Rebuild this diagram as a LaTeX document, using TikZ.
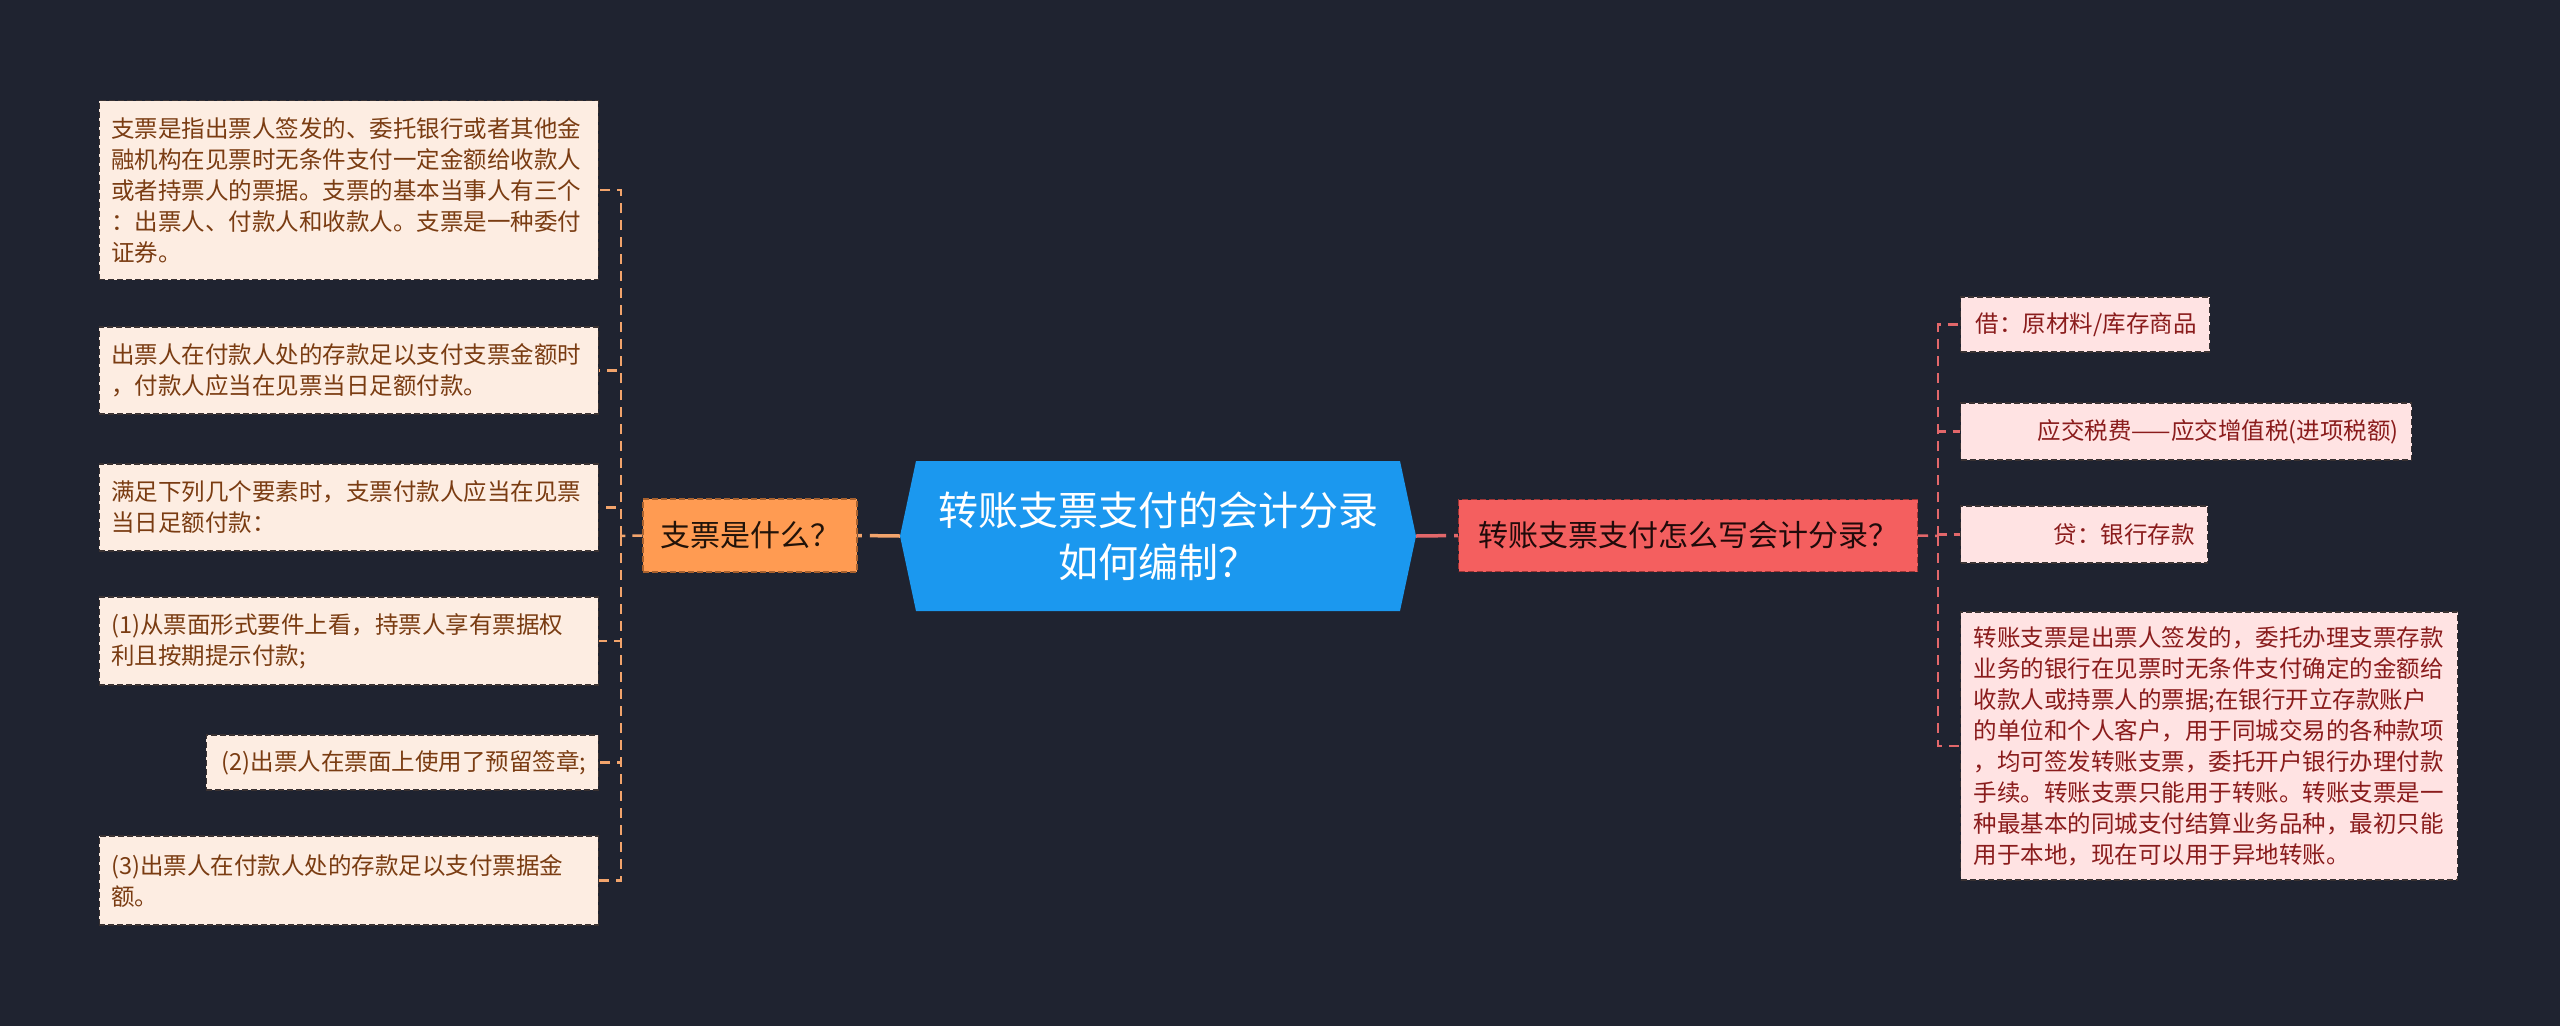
\documentclass[tikz,border=0pt]{standalone}
\usepackage{fontspec}
\setmainfont{Noto Sans CJK SC}
\definecolor{bgnavy}{HTML}{1F2330}
\definecolor{leftfill}{HTML}{FDEDE2}
\definecolor{lefttext}{HTML}{7A3C12}
\definecolor{leftlink}{HTML}{F2A46C}
\definecolor{askfill}{HTML}{FF9B52}
\definecolor{askedge}{HTML}{A8612E}
\definecolor{hexblue}{HTML}{1B98EF}
\definecolor{howfill}{HTML}{F45F5F}
\definecolor{howedge}{HTML}{9E3434}
\definecolor{rightfill}{HTML}{FFE3E3}
\definecolor{righttext}{HTML}{8A1C1C}
\definecolor{rightlink}{HTML}{E2676A}
\definecolor{boxedge}{HTML}{3A3232}
\tikzset{
  smalltext/.style={font=\fontsize{23.5}{31}\selectfont},
  leftbox/.style={smalltext, draw=boxedge, dash pattern=on 6pt off 3pt, line width=1.3pt,
    fill=leftfill, text=lefttext, inner xsep=12pt, inner ysep=0pt, anchor=east},
  rightbox/.style={smalltext, draw=boxedge, dash pattern=on 6pt off 3pt, line width=1.3pt,
    fill=rightfill, text=righttext, inner xsep=13pt, inner ysep=0pt, anchor=west},
  topic/.style={font=\fontsize{30}{38}\selectfont, dash pattern=on 6pt off 3pt, line width=1.3pt,
    inner sep=0pt},
  leftline/.style={draw=leftlink, line width=2.5pt, dash pattern=on 10pt off 7pt},
  rightline/.style={draw=rightlink, line width=2.5pt, dash pattern=on 10pt off 7pt}
}
\begin{document}
\begin{tikzpicture}[x=1pt,y=-1pt]
\fill[bgnavy] (0,0) rectangle (2560,1026);
% centre
\fill[hexblue] (900,536) -- (916,461) -- (1400,461) -- (1416,536) -- (1400,611) -- (916,611) -- cycle;
\node[text=white, minimum width=516pt, minimum height=150pt, inner sep=0pt,
  align=center, font=\fontsize{40}{52}\selectfont] (root) at (1158,536)
  {转账支票支付的会计分录\\如何编制？};
% main topics
\node[topic, draw=askedge, fill=askfill, text=black!80!askedge, minimum width=214pt,
  minimum height=73pt] (ask) at (750,535.5) {支票是什么？};
\node[topic, draw=howedge, fill=howfill, text=black!80!howedge, minimum width=459pt,
  minimum height=72pt] (how) at (1688,535.5) {转账支票支付怎么写会计分录？};
% left side
\node[leftbox, text width=475pt, align=left, minimum height=179pt] (l1) at (599,190)
  {支票是指出票人签发的、委托银行或者其他金\\融机构在见票时无条件支付一定金额给收款人\\或者持票人的票据。支票的基本当事人有三个\\：出票人、付款人和收款人。支票是一种委付\\证券。};
\node[leftbox, text width=475pt, align=left, minimum height=87pt] (l2) at (599,370.5)
  {出票人在付款人处的存款足以支付支票金额时\\，付款人应当在见票当日足额付款。};
\node[leftbox, text width=475pt, align=left, minimum height=87pt] (l3) at (599,507.5)
  {满足下列几个要素时，支票付款人应当在见票\\当日足额付款：};
\node[leftbox, text width=475pt, align=left, minimum height=88pt] (l4) at (599,641)
  {(1)从票面形式要件上看，持票人享有票据权\\利且按期提示付款;};
\node[leftbox, text width=368pt, align=right, minimum height=55pt] (l5) at (599,762.5)
  {(2)出票人在票面上使用了预留签章;};
\node[leftbox, text width=475pt, align=left, minimum height=89pt] (l6) at (599,880.5)
  {(3)出票人在付款人处的存款足以支付票据金\\额。};
% right side
\node[rightbox, text width=223pt, align=right, minimum height=55pt] (r1) at (1960,324.5)
  {借：原材料/库存商品};
\node[rightbox, text width=425pt, align=right, minimum height=57pt] (r2) at (1960,431.5)
  {应交税费——应交增值税(进项税额)};
\node[rightbox, text width=221pt, align=right, minimum height=57pt] (r3) at (1960,534.5)
  {贷：银行存款};
\node[rightbox, text width=471pt, align=left, minimum height=268pt] (r4) at (1960,746)
  {转账支票是出票人签发的，委托办理支票存款\\业务的银行在见票时无条件支付确定的金额给\\收款人或持票人的票据;在银行开立存款账户\\的单位和个人客户，用于同城交易的各种款项\\，均可签发转账支票，委托开户银行办理付款\\手续。转账支票只能用于转账。转账支票是一\\种最基本的同城支付结算业务品种，最初只能\\用于本地，现在可以用于异地转账。};
% connectors
\coordinate (lbus) at (621,536);
\coordinate (rbus) at (1938,536);
\draw[leftline, line width=3.5pt, dash pattern=on 30pt off 8pt] (root.west) -- (ask.east);
\draw[rightline, line width=3.5pt, dash pattern=on 30pt off 8pt] (root.east) -- (how.west);
\draw[leftline] (ask.west) -- (lbus);
\draw[rightline] (how.east) -- (rbus);
\foreach \n in {l1,l2,l3,l4,l5,l6}
  \draw[leftline] (lbus) |- (\n.east);
\foreach \n in {r1,r2,r3,r4}
  \draw[rightline] (rbus) |- (\n.west);
\end{tikzpicture}
\end{document}
